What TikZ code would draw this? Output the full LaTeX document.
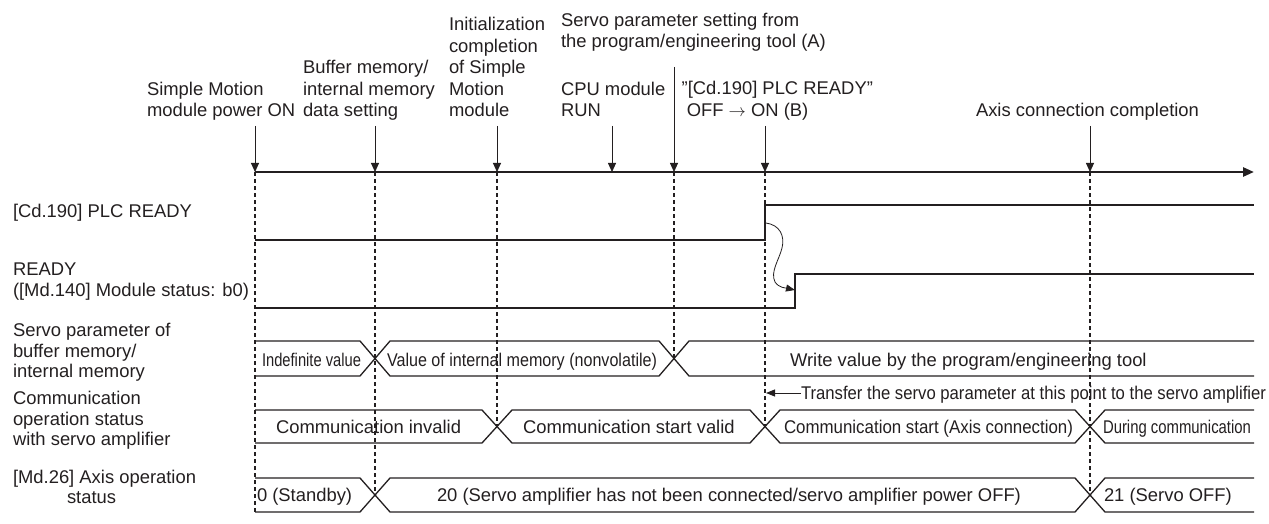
\documentclass[tikz,border=0pt]{standalone}
\usepackage{fontspec}
\setmainfont{Liberation Sans}
\usetikzlibrary{arrows.meta}
\definecolor{ink}{HTML}{231F20}
\begin{document}
\begin{tikzpicture}[x=1pt,y=-1pt,
  every node/.style={inner sep=0pt, outer sep=0pt, text=ink},
  lbl/.style={font=\fontsize{18.4}{21.5}\selectfont, align=left, anchor=north west},
  side/.style={font=\fontsize{18.4}{20.5}\selectfont, align=left, anchor=north west},
  rowtxt/.style={font=\fontsize{18.4}{22}\selectfont, anchor=base west},
  sig/.style={draw=ink, line width=1.3pt},
  tline/.style={draw=ink, line width=2.5pt, -{Triangle[length=11pt,width=9pt]}},
  evarrow/.style={draw=ink, line width=0.9pt, -{Triangle[length=9pt,width=8pt]}},
  vdash/.style={draw=ink, line width=1.7pt, dash pattern=on 4pt off 3pt},
  thinarrow/.style={draw=ink, line width=0.9pt, -{Triangle[length=9pt,width=7pt]}},
]
\useasboundingbox (0,0) rectangle (1269,524);

% ---- time axis
\coordinate (t0) at (255,172);
\coordinate (tend) at (1254,172);
\draw[tline] (t0) -- (tend);

% event points on the axis
\coordinate (e1) at (255,172);
\coordinate (e2) at (375,172);
\coordinate (e3) at (497,172);
\coordinate (e4) at (612,172);
\coordinate (e5) at (674,172);
\coordinate (e6) at (765,172);
\coordinate (e7) at (1090,172);
% arrow starts
\coordinate (s1) at (255,126);
\coordinate (s2) at (375,126);
\coordinate (s3) at (497,126);
\coordinate (s4) at (612,126);
\coordinate (s5) at (674,67);
\coordinate (s6) at (765,126);
\coordinate (s7) at (1090,126);
\foreach \i in {1,...,7} {\draw[evarrow] (s\i) -- (e\i);}

% dashed ends
\coordinate (d1) at (255,512);
\coordinate (d2) at (375,495);
\coordinate (d3) at (497,426.5);
\coordinate (d5) at (674,358.5);
\coordinate (d6) at (765,426.5);
\coordinate (d7) at (1090,495);
\foreach \i in {1,2,3,5,6,7} {\draw[vdash] (e\i) -- (d\i);}

% ---- top labels
\node[lbl] (l1) at (147,81.7) {Simple Motion\\module power ON};
\node[lbl] (l2) at (303,60.2) {Buffer memory/\\internal memory\\data setting};
\node[lbl] (l3) at (449,17.2) {Initialization\\completion\\of Simple\\Motion\\module};
\node[lbl] (l5) at (561,12.7) {Servo parameter setting from\\the program/engineering tool (A)};
\node[lbl] (l4) at (561,81.7) {CPU module\\RUN};
\node[lbl] (l6) at (681.7,81.5) {\symbol{34}[Cd.190] PLC READY\symbol{34}\\\ OFF $\rightarrow$ ON (B)};
\node[lbl] (l7) at (976,103.2) {Axis connection completion};

% ---- left labels
\node[side] (r1) at (13,204.6) {[Cd.190] PLC READY};
\node[side] (r2) at (13,263.2) {READY\\([Md.140] Module status: b0)};
\node[side] (r3) at (13,323.2) {Servo parameter of\\buffer memory/\\internal memory};
\node[side] (r4) at (13,391.2) {Communication\\operation status\\with servo amplifier};
\node[side] (r5) at (13,470.1) {[Md.26] Axis operation\\\hspace*{54pt}status};

% ---- PLC READY signal
\draw[sig] (255,240) -- (765,240) -- (765,205) -- (1254,205);
% ---- READY signal
\draw[sig] (255,308) -- (795,308) -- (795,274) -- (1254,274);
% curved cause arrow
\coordinate (ca) at (766,223);
\coordinate (cb) at (795,290);
\draw[draw=ink, line width=0.8pt, -{Triangle[length=9pt,width=7pt]}]
  (ca) .. controls (780,225) and (785,236) .. (782,248)
       .. controls (779,260) and (770,272) .. (775,282)
       .. controls (779,288) and (786,288) .. (cb);

% ---- servo parameter row
\draw[sig] (255,341) -- (360,341) -- (390,376) -- (659,376) -- (689,341) -- (1254,341);
\draw[sig] (255,376) -- (360,376) -- (390,341) -- (659,341) -- (689,376) -- (1254,376);
\node[rowtxt] (v1) at (262,366) {\resizebox{99pt}{\height}{Indefinite value}};
\node[rowtxt] (v2) at (387,366) {\resizebox{270pt}{\height}{Value of internal memory (nonvolatile)}};
\node[rowtxt] (v3) at (790,366) {Write value by the program/engineering tool};

% transfer note
\node[rowtxt] (tr) at (801,399) {\resizebox{465pt}{\height}{Transfer the servo parameter at this point to the servo amplifier}};
\coordinate (tra) at (801,393);
\coordinate (trb) at (766,393);
\draw[thinarrow] (tra) -- (trb);

% ---- communication row
\draw[sig] (255,410) -- (482,410) -- (512,443) -- (750,443) -- (780,410) -- (1075,410) -- (1105,443) -- (1254,443);
\draw[sig] (255,443) -- (482,443) -- (512,410) -- (750,410) -- (780,443) -- (1075,443) -- (1105,410) -- (1254,410);
\node[rowtxt] (c1) at (276,433) {Communication invalid};
\node[rowtxt] (c2) at (523,433) {Communication start valid};
\node[rowtxt] (c3) at (784,433) {\resizebox{289pt}{\height}{Communication start (Axis connection)}};
\node[rowtxt] (c4) at (1103,433) {\resizebox{148pt}{\height}{During communication}};

% ---- axis operation status row
\draw[sig] (255,478) -- (360,478) -- (390,512) -- (1075,512) -- (1105,478) -- (1254,478);
\draw[sig] (255,512) -- (360,512) -- (390,478) -- (1075,478) -- (1105,512) -- (1254,512);
\node[rowtxt] (a1) at (257,501.5) {0 (Standby)};
\node[rowtxt] (a2) at (437,501.5) {20 (Servo amplifier has not been connected/servo amplifier power OFF)};
\node[rowtxt] (a3) at (1104,501.5) {21 (Servo OFF)};
\end{tikzpicture}
\end{document}
